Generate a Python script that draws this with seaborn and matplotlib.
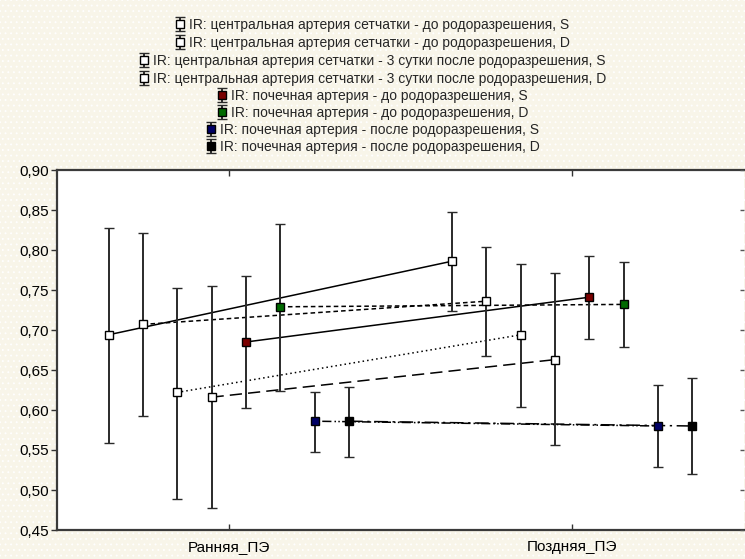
import numpy as np
import pandas as pd
import matplotlib
matplotlib.use("Agg")
import matplotlib.pyplot as plt
import seaborn as sns

# ---------------- data ----------------
categories = ["Ранняя_ПЭ", "Поздняя_ПЭ"]

series_labels = [
    "IR: центральная артерия сетчатки - до родоразрешения, S",
    "IR: центральная артерия сетчатки - до родоразрешения, D",
    "IR: центральная артерия сетчатки - 3 сутки после родоразрешения, S",
    "IR: центральная артерия сетчатки - 3 сутки после родоразрешения, D",
    "IR: почечная артерия - до родоразрешения, S",
    "IR: почечная артерия - до родоразрешения, D",
    "IR: почечная артерия - после родоразрешения, S",
    "IR: почечная артерия - после родоразрешения, D",
]

cra_before_S_mean = [0.694, 0.786]
cra_before_S_low = [0.559, 0.724]
cra_before_S_high = [0.828, 0.847]

cra_before_D_mean = [0.707, 0.736]
cra_before_D_low = [0.593, 0.668]
cra_before_D_high = [0.821, 0.804]

cra_after_S_mean = [0.622, 0.694]
cra_after_S_low = [0.489, 0.604]
cra_after_S_high = [0.752, 0.783]

cra_after_D_mean = [0.616, 0.663]
cra_after_D_low = [0.477, 0.556]
cra_after_D_high = [0.755, 0.771]

ren_before_S_mean = [0.685, 0.741]
ren_before_S_low = [0.602, 0.689]
ren_before_S_high = [0.768, 0.792]

ren_before_D_mean = [0.729, 0.732]
ren_before_D_low = [0.624, 0.679]
ren_before_D_high = [0.832, 0.785]

ren_after_S_mean = [0.586, 0.580]
ren_after_S_low = [0.547, 0.529]
ren_after_S_high = [0.623, 0.631]

ren_after_D_mean = [0.586, 0.580]
ren_after_D_low = [0.541, 0.520]
ren_after_D_high = [0.629, 0.640]

y_ticks = [0.45, 0.50, 0.55, 0.60, 0.65, 0.70, 0.75, 0.80, 0.85, 0.90]
y_tick_labels = ["0,45", "0,50", "0,55", "0,60", "0,65", "0,70", "0,75", "0,80", "0,85", "0,90"]

means = [cra_before_S_mean, cra_before_D_mean, cra_after_S_mean, cra_after_D_mean,
         ren_before_S_mean, ren_before_D_mean, ren_after_S_mean, ren_after_D_mean]
lows = [cra_before_S_low, cra_before_D_low, cra_after_S_low, cra_after_D_low,
        ren_before_S_low, ren_before_D_low, ren_after_S_low, ren_after_D_low]
highs = [cra_before_S_high, cra_before_D_high, cra_after_S_high, cra_after_D_high,
         ren_before_S_high, ren_before_D_high, ren_after_S_high, ren_after_D_high]

# ---------------- styles ----------------
face_colors = ["white", "white", "white", "white", "#7a0000", "#006a00", "#000066", "#000000"]
line_styles = ["-", (0, (3, 2)), (0, (1, 2)), (0, (8, 4)),
               "-", (0, (3, 2)), (0, (1, 1.5, 1, 1.5, 6, 2)), (0, (9, 3, 1.5, 3))]
offsets = np.linspace(-0.35, 0.35, 8)

sns.set_theme(style="white")
plt.rcParams["font.family"] = ["Liberation Sans", "DejaVu Sans"]
plt.rcParams["hatch.color"] = "#dcd8ca"
plt.rcParams["hatch.linewidth"] = 0.6

W, H = 745, 559
fig = plt.figure(figsize=(W / 100, H / 100), dpi=100)
fig.patch.set_facecolor("#f8f5e9")
fig.patch.set_hatch("...")

ax = fig.add_axes([57 / W, 1 - 530 / H, (744 - 57) / W, (530 - 170) / H])
ax.set_facecolor("white")

handles = []
for i in range(8):
    m = np.array(means[i])
    lo = np.array(lows[i])
    hi = np.array(highs[i])
    xs = np.arange(len(categories)) + offsets[i]
    df = pd.DataFrame({"x": xs, "y": m})
    sns.lineplot(data=df, x="x", y="y", ax=ax, color="black", linewidth=1.1,
                 linestyle=line_styles[i], legend=False, zorder=2)
    eb = ax.errorbar(xs, m, yerr=[m - lo, hi - m], fmt="s", ms=6,
                     mfc=face_colors[i], mec="black", mew=1.0,
                     ecolor="#2a2a2a", elinewidth=1.4, capsize=3.5, capthick=1.4,
                     zorder=3, label=series_labels[i])
    handles.append(eb)

ax.set_xlim(-0.5, 1.5)
ax.set_ylim(0.45, 0.90)
ax.set_xticks(np.arange(len(categories)))
ax.set_xticklabels(categories, fontsize=11)
ax.set_yticks(y_ticks)
ax.set_yticklabels(y_tick_labels, fontsize=11)
ax.set_xlabel("")
ax.set_ylabel("")

ax.tick_params(axis="x", which="major", direction="in", top=True, bottom=True,
               length=4, width=1, color="#333333", pad=7, labelcolor="black")
ax.tick_params(axis="y", which="major", direction="out", left=True, right=False,
               length=4, width=1, color="#333333", pad=2, labelcolor="black")

for side in ["left", "top", "bottom"]:
    ax.spines[side].set_color("#3a3a3a")
    ax.spines[side].set_linewidth(1.6)
ax.spines["right"].set_visible(False)

ax2 = ax.twinx()
ax2.set_ylim(ax.get_ylim())
ax2.set_yticks(y_ticks)
ax2.set_yticklabels([])
ax2.tick_params(axis="y", direction="in", right=True, left=False, length=3, width=1,
                color="#555555")
for side in ["left", "top", "bottom", "right"]:
    ax2.spines[side].set_visible(False)
ax2.grid(False)

row_centers = [25, 42.5, 61, 79, 96, 113, 130, 147]
for h, lab, yc in zip(handles, series_labels, row_centers):
    fig.legend(handles=[h], labels=[lab], loc="center",
               bbox_to_anchor=(0.5, 1 - yc / H), frameon=False, fontsize=10,
               handlelength=0.7, handletextpad=0.3, borderpad=0, borderaxespad=0)

fig.savefig("out.png", dpi=100, facecolor=fig.get_facecolor())
